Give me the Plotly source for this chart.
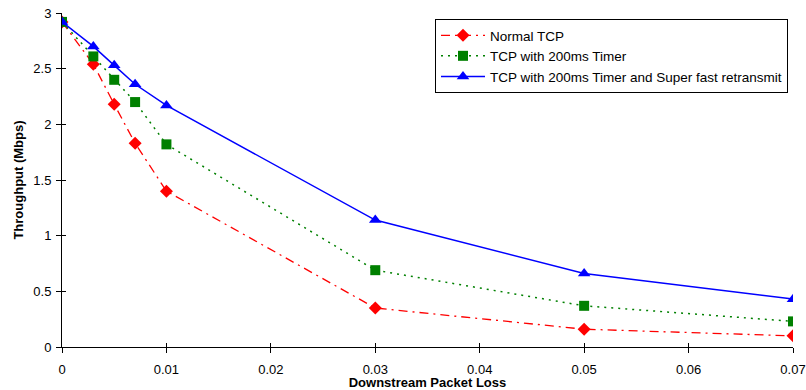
import plotly.graph_objects as go

loss = [0, 0.003, 0.005, 0.007, 0.01, 0.03, 0.05, 0.07]
normal_tcp = [2.92, 2.54, 2.18, 1.83, 1.40, 0.35, 0.16, 0.10]
tcp_timer = [2.92, 2.61, 2.40, 2.20, 1.82, 0.69, 0.37, 0.23]
tcp_timer_sfr = [2.92, 2.70, 2.53, 2.36, 2.17, 1.14, 0.66, 0.43]

names = ["Normal TCP", "TCP with 200ms Timer", "TCP with 200ms Timer and Super fast retransmit"]

fig = go.Figure()
fig.add_trace(go.Scatter(x=loss, y=normal_tcp, name=names[0], mode="lines+markers",
                         line=dict(color="#ff0000", width=1.3, dash="9px,5px,2px,5px"),
                         marker=dict(symbol="diamond", size=10, color="#ff0000")))
fig.add_trace(go.Scatter(x=loss, y=tcp_timer, name=names[1], mode="lines+markers",
                         line=dict(color="#008000", width=1.5, dash="2px,5px"),
                         marker=dict(symbol="square", size=10, color="#008000")))
fig.add_trace(go.Scatter(x=loss, y=tcp_timer_sfr, name=names[2], mode="lines+markers",
                         line=dict(color="#0000ff", width=1.5),
                         marker=dict(symbol="triangle-up", size=11, color="#0000ff")))

ff = "Liberation Sans, Arial, sans-serif"
fig.update_layout(
    width=806, height=390,
    margin=dict(l=62, r=13, t=13, b=43),
    plot_bgcolor="white", paper_bgcolor="white",
    font=dict(family=ff, size=13, color="black"),
    showlegend=True,
    legend=dict(x=(435 - 62) / 731, y=(347 - 19) / 334,
                xanchor="left", yanchor="top",
                bordercolor="black", borderwidth=1, bgcolor="white",
                font=dict(family=ff, size=13.5, color="black"),
                itemwidth=44, tracegroupgap=0),
    xaxis=dict(range=[0, 0.07], dtick=0.01, showgrid=False, zeroline=False,
               showline=True, linecolor="black", linewidth=1, automargin=False,
               ticks="outside", ticklen=5, tickcolor="black", ticklabelstandoff=5,
               title=dict(text="<b>Downstream Packet Loss</b>", standoff=6,
                          font=dict(size=13))),
    yaxis=dict(range=[0, 3], dtick=0.5, showgrid=False, zeroline=False,
               showline=True, linecolor="black", linewidth=1, automargin=False,
               ticks="outside", ticklen=5, tickcolor="black", ticklabelstandoff=2,
               title=dict(text="<b>Throughput (Mbps)</b>", standoff=6,
                          font=dict(size=13))),
    xaxis2=dict(range=[0, 0.07], dtick=0.01, overlaying="x", showticklabels=False,
                ticks="inside", ticklen=4, tickcolor="black", showgrid=False,
                zeroline=False, anchor="y", automargin=False),
    yaxis2=dict(range=[0, 3], dtick=0.5, overlaying="y", showticklabels=False,
                ticks="inside", ticklen=4, tickcolor="black", showgrid=False,
                zeroline=False, anchor="x", automargin=False),
)
# invisible helper trace to activate inner tick axes
fig.add_trace(go.Scatter(x=[0], y=[0], xaxis="x2", yaxis="y2", mode="markers",
                         marker=dict(opacity=0), showlegend=False, hoverinfo="skip"))
fig.write_html("out.html")
